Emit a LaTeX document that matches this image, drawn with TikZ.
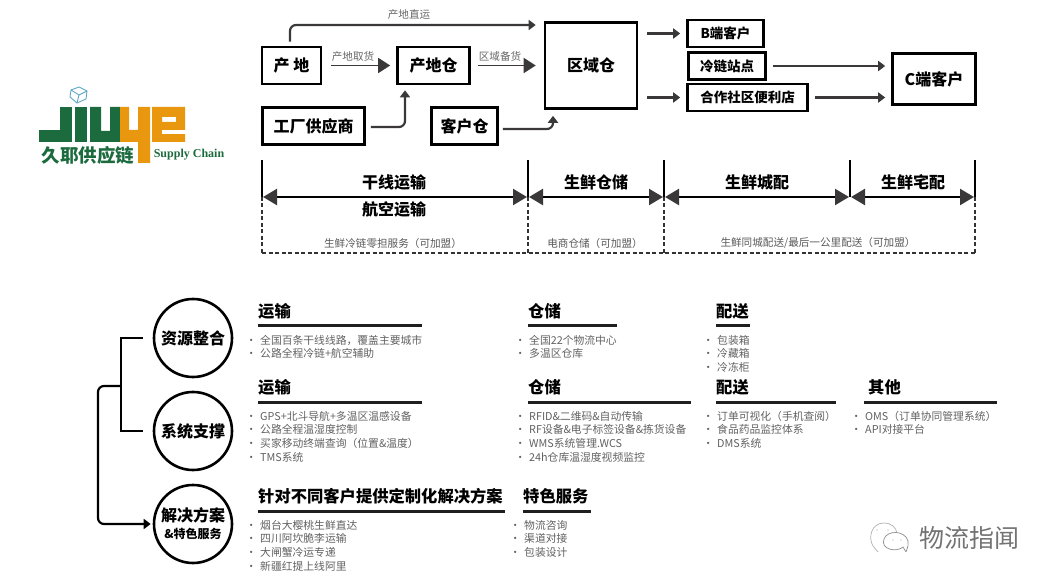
\documentclass[tikz,border=0pt]{standalone}
\usepackage{fontspec}
\setmainfont{Noto Sans CJK SC}
\setsansfont{Noto Sans CJK SC}
\usetikzlibrary{arrows.meta}
\definecolor{logogreen}{HTML}{1C6B3E}
\definecolor{logoorange}{HTML}{E9970F}
\definecolor{logoblue}{HTML}{5FA8C4}
\definecolor{darkline}{HTML}{3A3838}
\newcommand{\bul}{\llap{·\hspace{3.5pt}}}
\tikzset{
	boxthick/.style={draw=black, line width=2.6pt, inner sep=0pt, font=\fontsize{16}{16}\selectfont\bfseries},
	boxthin/.style={boxthick, font=\fontsize{13.5}{14}\selectfont\bfseries},
	smallarrow/.style={draw=darkline, line width=2.2pt, -{Triangle[width=10pt,length=7pt]}},
	bigarrow/.style={draw=darkline, line width=1.8pt, -{Triangle[width=15pt,length=12pt]}},
	dimarrow/.style={draw=black, line width=2.4pt, {Triangle[width=16pt,length=14pt,color=darkline]}-{Triangle[width=16pt,length=14pt,color=darkline]}, shorten >=1pt, shorten <=1pt},
	gridline/.style={draw=black, line width=2.2pt},
	dashline/.style={draw=black!80, line width=1.6pt, dash pattern=on 4pt off 2.5pt},
	tinytext/.style={text=black!65, font=\fontsize{10.6}{11}\selectfont, inner sep=0pt},
	bigtext/.style={font=\fontsize{16}{16}\selectfont\bfseries, inner sep=0pt},
	roundnode/.style={draw=black, line width=2.6pt, circle, minimum size=78pt, inner sep=0pt, align=center},
	headtext/.style={anchor=west, inner sep=0pt, font=\fontsize{16.3}{16}\selectfont\bfseries},
	listtext/.style={anchor=west, inner sep=0pt, text=black!62, font=\fontsize{10.8}{11}\selectfont},
	headrule/.style={draw=black!88, line width=3pt},
	linkline/.style={draw=black, line width=2.4pt}
}
\begin{document}
\begin{tikzpicture}[x=1pt, y=-1pt]
	\useasboundingbox (0,0) rectangle (1055,585);

	% logo
	\fill[logogreen] (39,130) rectangle (72,142);
	\fill[logogreen] (60,107) rectangle (72,142);
	\fill[logogreen] (75,107) rectangle (87,142);
	\fill[logogreen] (90,107) -- (101,107) -- (101,131) -- (110,131) -- (110,107) -- (120,107) -- (120,142) -- (90,142) -- cycle;
	\fill[logoorange] (120,107) -- (129,107) -- (129,130) -- (138,130) -- (138,107) -- (150,107) -- (150,163) -- (138,163) -- (138,142) -- (120,142) -- cycle;
	\fill[logoorange,even odd rule] (152,107) rectangle (185,142) (162,117) rectangle (176,122);
	\fill[white] (162,130) rectangle (185.5,134);
	\draw[logoblue, line width=0.9pt] (79,87) -- (87,91) -- (86,99) -- (77,103) -- (70,97) -- (71,90) -- cycle;
	\draw[logoblue, line width=0.9pt] (71,90) -- (79,95) -- (87,91) (79,95) -- (77,103);
	\node (logocn) [inner sep=0pt, text=logogreen, font=\fontsize{18.5}{19}\selectfont\bfseries] at (88,155) {久耶供应链};
	\node (logoen) [inner sep=0pt, text=logogreen, font=\fontspec{Liberation Serif}\fontsize{12}{13}\selectfont\bfseries] at (189,155) {Supply Chain};

	% top flow
	\node (chandi) [boxthick, minimum width=59pt, minimum height=37pt] at (291.5,65.5) {产 地};
	\node (chandicang) [boxthick, minimum width=72pt, minimum height=37pt] at (433.5,65.5) {产地仓};
	\node (gongchang) [boxthick, minimum width=102pt, minimum height=37pt] at (313.5,126) {工厂供应商};
	\node (kehucang) [boxthick, minimum width=66pt, minimum height=37pt] at (464.5,126) {客户仓};
	\node (quyucang) [boxthick, minimum width=92pt, minimum height=86pt] at (591,65.5) {区域仓};
	\node (bkehu) [boxthin, minimum width=76pt, minimum height=27pt] at (725.5,33.5) {B端客户};
	\node (lenglian) [boxthin, minimum width=77pt, minimum height=27pt] at (727,66) {冷链站点};
	\node (hezuo) [boxthin, minimum width=120pt, minimum height=27pt] at (747.5,97.5) {合作社区便利店};
	\node (ckehu) [boxthick, minimum width=83pt, minimum height=51pt] at (934,79) {C端客户};

	\coordinate (zhiyun) at (290,25);
	\draw[smallarrow, rounded corners=6pt, shorten <=4pt, shorten >=8pt] (chandi.north -| zhiyun) -- (zhiyun) -- (zhiyun -| quyucang.west);
	\node (zhiyunlabel) [tinytext, text=black!60] at (409,15) {产地直运};
	\draw[bigarrow, shorten <=9pt, shorten >=6pt] (chandi) -- (chandicang);
	\node (qulabel) [tinytext, text=black!60] at (353,56) {产地取货};
	\draw[bigarrow, shorten <=7pt, shorten >=8pt] (chandicang) -- (quyucang);
	\node (beilabel) [tinytext, text=black!60] at (500,56) {区域备货};
	\coordinate (gcturn) at (405,127);
	\draw[smallarrow, rounded corners=6pt, shorten <=5pt, shorten >=5pt] (gongchang.east |- gcturn) -- (gcturn) -- (gcturn |- chandicang.south);
	\coordinate (kcturn) at (553,129);
	\draw[smallarrow, rounded corners=6pt, shorten <=4pt, shorten >=6pt] (kehucang.east |- kcturn) -- (kcturn) -- (kcturn |- quyucang.south);

	\draw[smallarrow, shorten <=9pt, shorten >=6pt] (quyucang.east |- bkehu) -- (bkehu.west);
	\draw[smallarrow, shorten <=9pt, shorten >=6pt] (quyucang.east |- hezuo) -- (hezuo.west);
	\draw[smallarrow, shorten <=6pt, shorten >=6pt] (lenglian.east) -- (lenglian.east -| ckehu.west);
	\draw[smallarrow, shorten <=6pt, shorten >=6pt] (hezuo.east) -- (hezuo.east -| ckehu.west);

	% dimension bars
	\coordinate (ta) at (262,160);
	\coordinate (tb) at (528,160);
	\coordinate (tc) at (664,160);
	\coordinate (td) at (850,160);
	\coordinate (te) at (975,160);
	\coordinate (ma) at (262,197);
	\coordinate (mb) at (528,197);
	\coordinate (mc) at (664,197);
	\coordinate (md) at (850,197);
	\coordinate (me) at (975,197);
	\coordinate (ba) at (262,253);
	\coordinate (bb) at (528,253);
	\coordinate (bc) at (664,253);
	\coordinate (bd) at (850,253);
	\coordinate (be) at (975,253);
	\draw[gridline] (ta) -- (ma);
	\draw[gridline] (tb) -- (mb);
	\draw[gridline] (tc) -- (mc);
	\draw[gridline] (td) -- (md);
	\draw[gridline] (te) -- (me);
	\draw[dashline] (ma) -- (ba);
	\draw[dashline] (mb) -- (bb);
	\draw[dashline] (mc) -- (bc);
	\draw[dashline] (me) -- (be);
	\draw[dashline, line width=1.9pt] (ba) -- (be);
	\draw[dimarrow] (ma) -- (mb);
	\draw[dimarrow] (mb) -- (mc);
	\draw[dimarrow] (mc) -- (md);
	\draw[dimarrow] (md) -- (me);
	\node (gan) [bigtext] at (394,182) {干线运输};
	\node (hang) [bigtext] at (394,209) {航空运输};
	\node (cang) [bigtext] at (596,182) {生鲜仓储};
	\node (cheng) [bigtext] at (757,182) {生鲜城配};
	\node (zhai) [bigtext] at (913,182) {生鲜宅配};
	\node (lingdan) [tinytext] at (393,243) {生鲜冷链零担服务（可加盟）};
	\node (dianshang) [tinytext] at (595,243) {电商仓储（可加盟）};
	\node (tongcheng) [tinytext] at (818,243) {生鲜同城配送/最后一公里配送（可加盟）};

	% circles and brackets
	\node (ziyuan) [roundnode, font=\fontsize{16}{16}\selectfont\bfseries] at (193,338) {资源整合};
	\node (xitong) [roundnode, font=\fontsize{16}{16}\selectfont\bfseries] at (193,431) {系统支撑};
	\node (jiejue) [roundnode, font=\fontsize{16}{17}\selectfont\bfseries] at (193,524) {解决方案\\{\fontsize{12}{12}\selectfont \&特色服务}};
	\coordinate (kua) at (121,338);
	\coordinate (kub) at (121,431);
	\coordinate (kuc) at (121,386);
	\coordinate (kud) at (98,386);
	\draw[linkline] ([xshift=-10pt]ziyuan.west) -- (kua) -- (kub) -- ([xshift=-10pt]xitong.west);
	\draw[smallarrow, draw=black, rounded corners=6pt, shorten >=2pt] (kuc) -- (kud) -- (kud |- jiejue) -- (jiejue.west);

	% row one
	\node (yun1) [headtext] at (258,311) {运输};
	\draw[headrule] (258,326) -- (422,326);
	\node (yun1a) [listtext] at (260,340) {\bul 全国百条干线线路，覆盖主要城市};
	\node (yun1b) [listtext] at (260,353.5) {\bul 公路全程冷链+航空辅助};
	\node (cang1) [headtext] at (528,311) {仓储};
	\draw[headrule] (528,326) -- (617,326);
	\node (cang1a) [listtext] at (529,340) {\bul 全国22个物流中心};
	\node (cang1b) [listtext] at (529,353.5) {\bul 多温区仓库};
	\node (pei1) [headtext] at (716,311) {配送};
	\draw[headrule] (716,326) -- (750,326);
	\node (pei1a) [listtext] at (717,340) {\bul 包装箱};
	\node (pei1b) [listtext] at (717,353.5) {\bul 冷藏箱};
	\node (pei1c) [listtext] at (717,367.5) {\bul 冷冻柜};

	% row two
	\node (yun2) [headtext] at (258,387) {运输};
	\draw[headrule] (258,402) -- (422,402);
	\node (yun2a) [listtext] at (260,416) {\bul GPS+北斗导航+多温区温感设备};
	\node (yun2b) [listtext] at (260,429.5) {\bul 公路全程温湿度控制};
	\node (yun2c) [listtext] at (260,443) {\bul 买家移动终端查询（位置\&温度）};
	\node (yun2d) [listtext] at (260,457) {\bul TMS系统};
	\node (cang2) [headtext] at (528,387) {仓储};
	\draw[headrule] (528,402) -- (691,402);
	\node (cang2a) [listtext] at (529,416) {\bul RFID\&二维码\&自动传输};
	\node (cang2b) [listtext] at (529,429.5) {\bul RF设备\&电子标签设备\&拣货设备};
	\node (cang2c) [listtext] at (529,443) {\bul WMS系统管理.WCS};
	\node (cang2d) [listtext] at (529,457) {\bul 24h仓库温湿度视频监控};
	\node (pei2) [headtext] at (716,387) {配送};
	\draw[headrule] (716,402) -- (836,402);
	\node (pei2a) [listtext] at (717,416) {\bul 订单可视化（手机查阅）};
	\node (pei2b) [listtext] at (717,429.5) {\bul 食品药品监控体系};
	\node (pei2c) [listtext] at (717,443) {\bul DMS系统};
	\node (qita) [headtext] at (868,387) {其他};
	\draw[headrule] (864,402) -- (997,402);
	\node (qitaa) [listtext] at (865,416) {\bul OMS（订单协同管理系统）};
	\node (qitab) [listtext] at (865,429.5) {\bul API对接平台};

	% row three
	\node (zhen) [headtext] at (258,496) {针对不同客户提供定制化解决方案};
	\draw[headrule] (258,511) -- (505,511);
	\node (zhena) [listtext] at (260,525) {\bul 烟台大樱桃生鲜直达};
	\node (zhenb) [listtext] at (260,538.5) {\bul 四川阿坎脆李运输};
	\node (zhenc) [listtext] at (260,552) {\bul 大闸蟹冷运专递};
	\node (zhend) [listtext] at (260,566) {\bul 新疆红提上线阿里};
	\node (tese) [headtext] at (523,496) {特色服务};
	\draw[headrule] (523,511) -- (591,511);
	\node (tesea) [listtext] at (524,525) {\bul 物流咨询};
	\node (teseb) [listtext] at (524,538.5) {\bul 渠道对接};
	\node (tesec) [listtext] at (524,552) {\bul 包装设计};

	% watermark
	\draw[black!30, line width=0.7pt, fill=white] (878,552) -- (873,546) .. controls (868,538) and (871,523) .. (884,523) .. controls (892,523) and (896,528) .. (897,533);
	\draw[black!45, line width=0.7pt, fill=white] (906,552) -- (903,547) .. controls (896,553) and (880,549) .. (884,539) .. controls (887,530) and (905,530) .. (908,541) .. controls (909,544) and (908,546) .. (906,552);
	\fill[black!35] (877,530) circle (0.7pt) (888,530) circle (0.7pt) (893,540) circle (0.7pt) (901,540) circle (0.7pt);
	\node (zhiwen) [inner sep=0pt, text=black!55, font=\fontsize{25}{25}\selectfont] at (969,538) {物流指闻};
\end{tikzpicture}
\end{document}
